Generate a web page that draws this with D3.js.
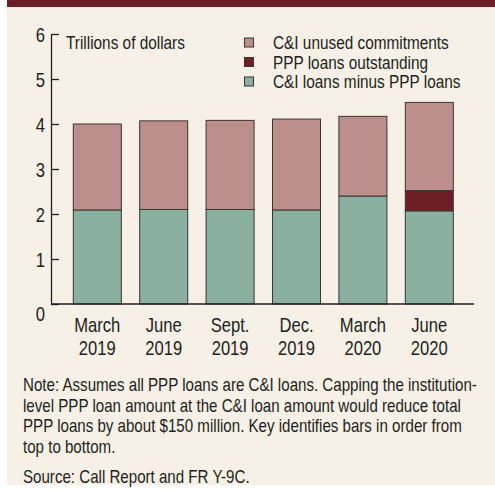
<!DOCTYPE html>
<html>
<head>
<meta charset="utf-8">
<script src="https://cdn.jsdelivr.net/npm/d3@7"></script>
<style>
  html, body { margin: 0; padding: 0; background: #ffffff; }
  svg { display: block; }
  text { font-family: "Liberation Sans", Arial, sans-serif; fill: #231f20; }
</style>
</head>
<body>
<svg id="chart" width="495" height="492"></svg>
<script>
// ---- data ----
const categories = ["March 2019", "June 2019", "Sept. 2019", "Dec. 2019", "March 2020", "June 2020"];
const catLine1 = ["March", "June", "Sept.", "Dec.", "March", "June"];
const catLine2 = ["2019", "2019", "2019", "2019", "2020", "2020"];
const ciMinusPPP = [2.09, 2.10, 2.10, 2.09, 2.40, 2.07];
const pppOutstanding = [0, 0, 0, 0, 0, 0.45];
const ciUnused = [1.91, 1.97, 1.98, 2.02, 1.77, 1.96];
const yTicks = [0, 1, 2, 3, 4, 5, 6];
const seriesNames = ["C&I unused commitments", "PPP loans outstanding", "C&I loans minus PPP loans"];
const noteLines = [
  "Note: Assumes all PPP loans are C&I loans. Capping the institution-",
  "level PPP loan amount at the C&I loan amount would reduce total",
  "PPP loans by about $150 million. Key identifies bars in order from",
  "top to bottom."
];
const sourceText = "Source: Call Report and FR Y-9C.";

// ---- styling ----
const colors = { unused: "#bd8f8c", ppp: "#6d1f25", green: "#8ab09f" };
const SX = 0.83; // horizontal condensing of the sans font
const svg = d3.select("#chart");

function addText(parent, x, yy, str, size, anchor) {
  return parent.append("text")
    .attr("transform", `translate(${x},${yy}) scale(${SX},1)`)
    .attr("font-size", size)
    .attr("text-anchor", anchor || "start")
    .text(str);
}

// background panel and top band
svg.append("rect").attr("x", 7).attr("y", 0).attr("width", 488).attr("height", 485).attr("fill", "#f6f0e6");
svg.append("rect").attr("x", 7).attr("y", 0).attr("width", 488).attr("height", 7).attr("fill", "#6b1f26");

// scales
const y = d3.scaleLinear().domain([0, 6]).range([304, 34]);
const x = d3.scaleBand().domain(categories).range([64.1, 462.5]).paddingInner(0.277).paddingOuter(0.1385);

// stacked data
const rows = categories.map((c, i) => ({ cat: c, green: ciMinusPPP[i], ppp: pppOutstanding[i], unused: ciUnused[i] }));
const stacked = d3.stack().keys(["green", "ppp", "unused"])(rows);

const g = svg.append("g");
stacked.forEach(layer => {
  g.append("g").selectAll("rect")
    .data(layer.filter(d => d[1] - d[0] > 0))
    .join("rect")
    .attr("x", d => x(d.data.cat))
    .attr("width", x.bandwidth())
    .attr("y", d => y(d[1]))
    .attr("height", d => y(d[0]) - y(d[1]))
    .attr("fill", colors[layer.key])
    .attr("stroke", "#3b3535")
    .attr("stroke-width", 1);
});

// y axis (ticks point inward)
const yAxis = d3.axisLeft(y).tickValues(yTicks).tickSizeInner(-8).tickSizeOuter(0).tickPadding(6).tickFormat(d3.format("d"));
const ya = svg.append("g").attr("transform", "translate(51,0)").call(yAxis);
ya.select(".domain").attr("stroke", "#231f20").attr("stroke-width", 1.3);
ya.selectAll(".tick line").attr("stroke", "#231f20").attr("stroke-width", 1.3);
ya.selectAll(".tick text")
  .attr("font-size", 20).attr("fill", "#231f20")
  .style("font-family", '"Liberation Sans", Arial, sans-serif')
  .attr("x", null).attr("dy", null)
  .attr("transform", d => `translate(-6,${d === 0 ? 16 : 7}) scale(${SX},1)`);

// baseline
svg.append("line").attr("x1", 51).attr("x2", 474).attr("y1", y(0)).attr("y2", y(0))
  .attr("stroke", "#231f20").attr("stroke-width", 1.3);

// x labels
const xl = svg.append("g");
categories.forEach((c, i) => {
  const cx = x(c) + x.bandwidth() / 2;
  addText(xl, cx, 331.5, catLine1[i], 20, "middle");
  addText(xl, cx, 355, catLine2[i], 20, "middle");
});

// unit label
addText(svg, 66, 48.5, "Trillions of dollars", 18.5);

// legend
const legendColors = [colors.unused, colors.ppp, colors.green];
const legendY = [42.5, 62, 81.5];
seriesNames.forEach((s, i) => {
  svg.append("rect").attr("x", 244.5).attr("y", legendY[i] - 4.5).attr("width", 9).attr("height", 9)
    .attr("fill", legendColors[i]).attr("stroke", "#3b3535").attr("stroke-width", 1);
  addText(svg, 273, legendY[i] + 6.5, s, 18.5);
});

// note and source
noteLines.forEach((t, i) => {
  addText(svg, 23, 391 + i * 20.7, t, 18.2);
});
addText(svg, 23, 482.5, sourceText, 18.2);
</script>
</body>
</html>
